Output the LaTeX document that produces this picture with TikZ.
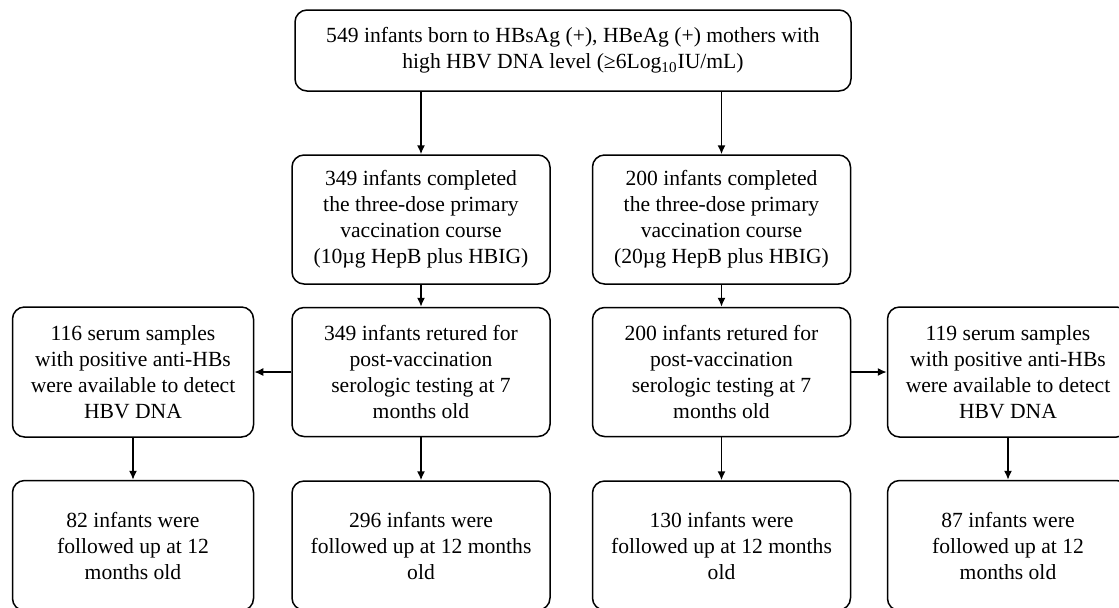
\documentclass[tikz,border=0pt]{standalone}
\usepackage{fontspec}
\setmainfont{Liberation Serif}
\usetikzlibrary{arrows.meta}
\begin{document}
\begin{tikzpicture}[x=0.5pt,y=-0.5pt,font=\fontsize{10.8}{13}\selectfont]
  \tikzstyle{box}=[draw,rounded corners=6pt,line width=0.75pt,align=center,inner sep=2pt]
  \tikzstyle{wide}=[box,minimum width=129pt,minimum height=64.5pt]
  \tikzstyle{narrow}=[box,minimum width=120.5pt,minimum height=65pt]
  \tikzstyle{line}=[draw,line width=0.75pt,-{Latex[length=4.5pt,width=4pt]}]
  \clip (0,0) rectangle (1119,607);
  \node[box,minimum width=278pt,minimum height=40.5pt] (mothers) at (573,50.5)
    {549 infants born to HBsAg (+), HBeAg (+) mothers with\\ high HBV DNA level (≥6Log\textsubscript{10}IU/mL)};
  \node[wide] (dose10) at (421,219.5)   {349 infants completed\\ the three-dose primary\\ vaccination course\\ (10µg HepB plus HBIG)};
  \node[wide] (dose20) at (721.5,219.5) {200 infants completed\\ the three-dose primary\\ vaccination course\\ (20µg HepB plus HBIG)};
  \node[wide] (test10) at (421,372)     {349 infants retured for\\ post-vaccination\\ serologic testing at 7\\ months old};
  \node[wide] (test20) at (721.5,372)   {200 infants retured for\\ post-vaccination\\ serologic testing at 7\\ months old};
  \node[narrow] (serum10) at (133,372)  {116 serum samples\\ with positive anti-HBs\\ were available  to detect\\ HBV DNA};
  \node[narrow] (serum20) at (1008,372) {119 serum samples\\ with positive anti-HBs\\ were available  to detect\\ HBV DNA};
  \node[narrow] (fu82) at (133,545.5)   {82 infants were\\ followed up at 12\\ months old};
  \node[wide] (fu296) at (421,545.5)    {296 infants were\\ followed up at 12 months\\ old};
  \node[wide] (fu130) at (721.5,545.5)  {130 infants were\\ followed up at 12 months\\ old};
  \node[narrow] (fu87) at (1008,545.5)  {87 infants were\\ followed up at 12\\ months old};
  % arrows
  \path[line] (mothers.south -| dose10) -- (dose10);
  \path[line] (mothers.south -| dose20) -- (dose20);
  \path[line] (dose10) -- (test10);
  \path[line] (dose20) -- (test20);
  \path[line] (test10) -- (serum10);
  \path[line] (test20) -- (serum20);
  \path[line] (serum10) -- (fu82);
  \path[line] (test10) -- (fu296);
  \path[line] (test20) -- (fu130);
  \path[line] (serum20) -- (fu87);
\end{tikzpicture}
\end{document}
